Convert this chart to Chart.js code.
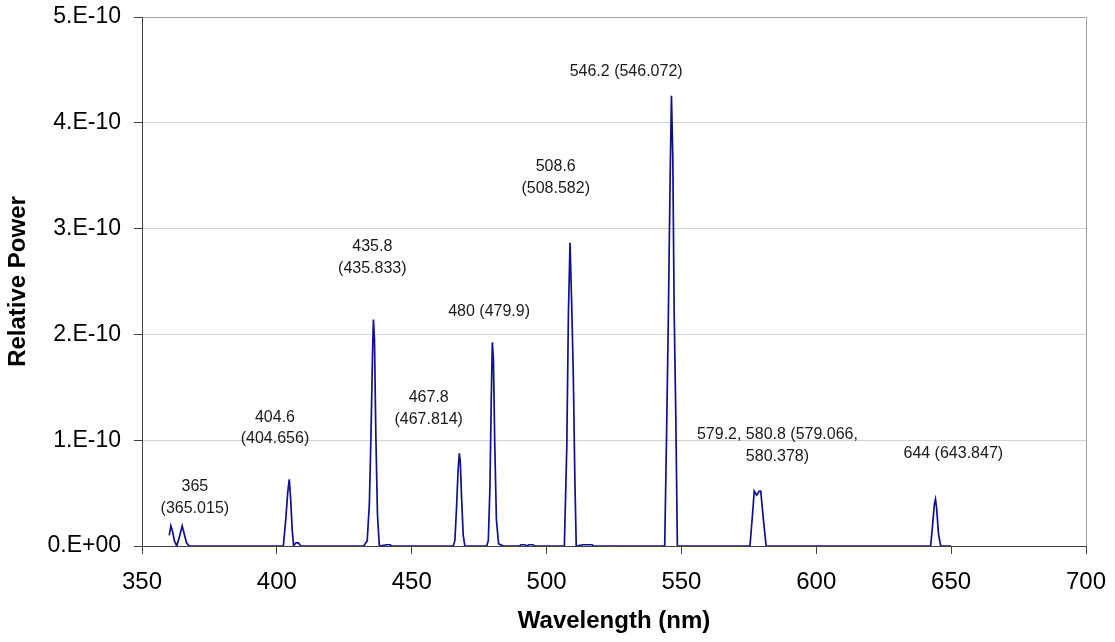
<!DOCTYPE html>
<html>
<head>
<meta charset="utf-8">
<script src="https://cdn.jsdelivr.net/npm/chart.js@4.4.1/dist/chart.umd.min.js"></script>
<style>
  body { margin: 0; background: #fff; }
</style>
</head>
<body>
<canvas id="spectrum" width="1115" height="642"></canvas>
<script>
// wavelength (nm) and relative power
const wavelength = [
  360.1, 360.7, 361.4, 362.0, 362.9, 364.0, 364.9, 365.6, 366.5, 367.5,
  402.4, 403.3, 404.0, 404.6, 405.1, 405.7, 406.2, 407.0, 408.0, 408.8,
  432.2, 433.5, 434.3, 434.9, 435.5, 435.8, 436.2, 436.7, 437.3, 438.0, 440.7, 442.0, 442.3,
  465.4, 466.0, 466.6, 467.2, 467.65, 468.0, 468.5, 469.1, 469.7,
  477.8, 478.4, 479.0, 479.5, 479.9, 480.3, 480.8, 481.4, 482.2, 484.0,
  490.0, 490.5, 492.0, 492.5, 493.5, 495.0, 495.5,
  506.6, 507.5, 508.1, 508.7, 509.3, 509.9, 510.5, 511.0, 513.5, 516.9, 517.2,
  543.8, 544.5, 545.1, 545.8, 546.3, 546.8, 547.3, 547.9, 548.5,
  575.4, 576.3, 577.0, 577.9, 578.9, 579.4, 580.4, 581.4,
  642.4, 643.2, 643.8, 644.2, 644.6, 645.3, 646.1, 650.0
];
const power = [
  0.10e-10, 0.19e-10, 0.13e-10, 0.05e-10, 0, 0.10e-10, 0.19e-10, 0.12e-10, 0.03e-10, 0,
  0, 0.25e-10, 0.50e-10, 0.63e-10, 0.45e-10, 0.15e-10, 0, 0.03e-10, 0.03e-10, 0,
  0, 0.05e-10, 0.40e-10, 1.05e-10, 1.85e-10, 2.14e-10, 1.95e-10, 1.05e-10, 0.30e-10, 0, 0.012e-10, 0.012e-10, 0,
  0, 0.05e-10, 0.35e-10, 0.72e-10, 0.876e-10, 0.80e-10, 0.45e-10, 0.10e-10, 0,
  0, 0.05e-10, 0.55e-10, 1.40e-10, 1.925e-10, 1.75e-10, 0.95e-10, 0.25e-10, 0.02e-10, 0,
  0, 0.012e-10, 0.012e-10, 0, 0.012e-10, 0.012e-10, 0,
  0, 0.94e-10, 2.20e-10, 2.867e-10, 2.30e-10, 1.63e-10, 0.62e-10, 0, 0.012e-10, 0.012e-10, 0,
  0, 1.07e-10, 2.07e-10, 3.46e-10, 4.256e-10, 3.68e-10, 2.23e-10, 1.26e-10, 0,
  0, 0.28e-10, 0.52e-10, 0.48e-10, 0.52e-10, 0.52e-10, 0.25e-10, 0,
  0, 0.22e-10, 0.40e-10, 0.444e-10, 0.36e-10, 0.12e-10, 0, 0
];

const yTicks = [0, 1e-10, 2e-10, 3e-10, 4e-10, 5e-10];
const yTickLabels = ["0.E+00", "1.E-10", "2.E-10", "3.E-10", "4.E-10", "5.E-10"];

// peak labels: text lines, anchor wavelength, anchor power (first line)
const labelText = [
  ["365", "(365.015)"],
  ["404.6", "(404.656)"],
  ["435.8", "(435.833)"],
  ["467.8", "(467.814)"],
  ["480 (479.9)"],
  ["508.6", "(508.582)"],
  ["546.2 (546.072)"],
  ["579.2, 580.8 (579.066,", "580.378)"],
  ["644 (643.847)"]
];
const labelX = [369.6, 399.3, 435.4, 456.3, 478.7, 503.4, 529.5, 585.6, 650.8];
const labelY = [0.56e-10, 1.216e-10, 2.829e-10, 1.399e-10, 2.215e-10, 3.585e-10, 4.48e-10, 1.049e-10, 0.876e-10];

const peakLabels = {
  id: "peakLabels",
  afterDatasetsDraw(chart) {
    const ctx = chart.ctx;
    const xs = chart.scales.x, ys = chart.scales.y;
    ctx.save();
    ctx.font = "16px 'Liberation Sans', Arial, sans-serif";
    ctx.fillStyle = "#1a1a1a";
    ctx.textAlign = "center";
    ctx.textBaseline = "middle";
    labelText.forEach((lines, i) => {
      const px = xs.getPixelForValue(labelX[i]);
      const py = ys.getPixelForValue(labelY[i]);
      lines.forEach((t, j) => ctx.fillText(t, px, py + j * 21.6));
    });
    // plot area border on the right
    const a = chart.chartArea;
    ctx.strokeStyle = "#a0a0a0";
    ctx.lineWidth = 1;
    ctx.beginPath();
    ctx.moveTo(Math.round(a.right) + 0.5, a.top);
    ctx.lineTo(Math.round(a.right) + 0.5, a.bottom);
    ctx.stroke();
    ctx.restore();
  }
};

const ctx = document.getElementById("spectrum").getContext("2d");
new Chart(ctx, {
  type: "line",
  data: {
    datasets: [{
      data: wavelength.map((w, i) => ({ x: w, y: power[i] })),
      borderColor: "#101090",
      borderWidth: 1.7,
      pointRadius: 0,
      tension: 0,
      fill: false
    }]
  },
  options: {
    responsive: false,
    animation: false,
    layout: { padding: { top: 17, right: 29, left: 0, bottom: 0 } },
    plugins: { legend: { display: false }, tooltip: { enabled: false } },
    scales: {
      x: {
        type: "linear",
        min: 350,
        max: 700,
        z: 1,
        afterFit: s => { s.height = 96; s.paddingLeft = 0; s.paddingRight = 0; },
        ticks: {
          stepSize: 50,
          padding: 14,
          color: "#000",
          font: { size: 24, family: "'Liberation Sans', Arial, sans-serif" }
        },
        grid: { drawOnChartArea: false, tickLength: 8, tickColor: "#404040" },
        border: { color: "#404040", width: 1 },
        title: {
          display: true,
          text: "Wavelength (nm)",
          color: "#000",
          padding: { top: 4, bottom: 6 },
          font: { size: 24, weight: "bold", family: "'Liberation Sans', Arial, sans-serif" }
        }
      },
      y: {
        min: 0,
        max: 5e-10,
        afterFit: s => { s.width = 142; s.paddingTop = 0; s.paddingBottom = 0; },
        afterBuildTicks: s => { s.ticks = yTicks.map(v => ({ value: v })); },
        ticks: {
          padding: 13,
          color: "#000",
          font: { size: 23, family: "'Liberation Sans', Arial, sans-serif" },
          callback: (v, i) => yTickLabels[i]
        },
        grid: {
          color: c => (c.tick && c.tick.value === 5e-10) ? "#a0a0a0" : "#d4d4d4",
          tickLength: 8,
          tickColor: "#404040"
        },
        border: { color: "#404040", width: 1 },
        title: {
          display: true,
          text: "Relative Power",
          color: "#000",
          padding: { top: 4, bottom: 4 },
          font: { size: 24, weight: "bold", family: "'Liberation Sans', Arial, sans-serif" }
        }
      }
    }
  },
  plugins: [peakLabels]
});
</script>
</body>
</html>
